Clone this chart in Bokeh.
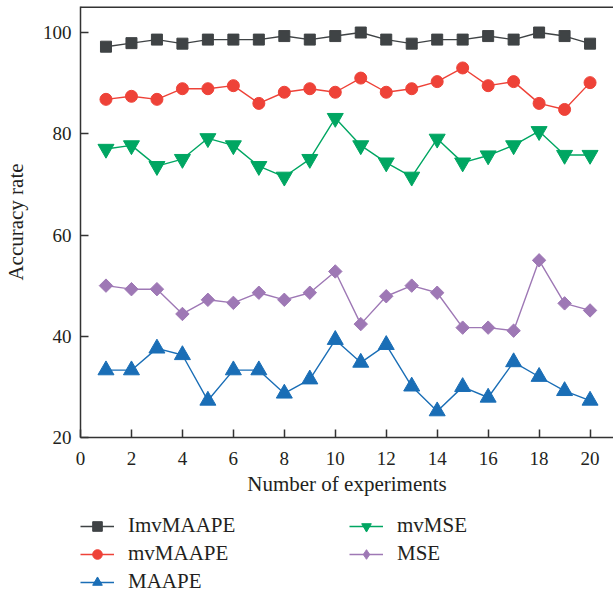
from bokeh.plotting import figure
from bokeh.layouts import column
from bokeh.models import Legend, LegendItem, FixedTicker, Range1d, Span
from bokeh.embed import file_html
from bokeh.resources import INLINE
import numpy as np

experiments = list(range(1, 21))
imv_maape = [97.2, 97.9, 98.6, 97.8, 98.6, 98.6, 98.6, 99.3, 98.6, 99.3,
             100.0, 98.6, 97.8, 98.6, 98.6, 99.3, 98.6, 100.0, 99.3, 97.8]
mv_maape = [86.8, 87.4, 86.8, 88.9, 88.9, 89.5, 86.0, 88.2, 88.9, 88.2,
            91.0, 88.2, 88.9, 90.3, 93.0, 89.5, 90.3, 86.0, 84.8, 90.1]
maape = [33.3, 33.3, 37.6, 36.3, 27.3, 33.3, 33.3, 28.7, 31.5, 39.3,
         34.8, 38.3, 30.1, 25.2, 30.0, 27.9, 34.9, 32.0, 29.2, 27.3]
mv_mse = [77.0, 77.7, 73.6, 75.0, 79.1, 77.7, 73.6, 71.5, 75.0, 83.1,
          77.7, 74.3, 71.5, 79.0, 74.3, 75.7, 77.7, 80.5, 75.8, 75.8]
mse = [50.0, 49.3, 49.3, 44.4, 47.2, 46.6, 48.6, 47.2, 48.6, 52.8,
       42.4, 47.9, 50.0, 48.6, 41.7, 41.7, 41.1, 55.0, 46.5, 45.1]
x_ticks = list(range(0, 21, 2))
y_ticks = [20, 40, 60, 80, 100]

FONT = "Liberation Serif"
TXT = "#231f20"
AX = "#333333"
X_END = 20.92
Y_END = 105.14

p = figure(width=613, height=509, output_backend="svg", toolbar_location=None,
           x_range=Range1d(0, X_END), y_range=Range1d(20, Y_END),
           min_border_left=79, min_border_right=0, min_border_top=6,
           min_border_bottom=72)
p.outline_line_color = None
p.xgrid.visible = False
p.ygrid.visible = False

xax = p.below[0]
yax = p.left[0]

for ax in (xax, yax):
    ax.axis_line_color = AX
    ax.axis_line_width = 1.5
    ax.major_tick_line_color = AX
    ax.major_tick_line_width = 1.5
    ax.major_tick_in = 8
    ax.major_tick_out = 0
    ax.minor_tick_line_color = None
    ax.major_label_text_font = FONT
    ax.major_label_text_font_size = "19px"
    ax.major_label_text_color = TXT
    ax.axis_label_text_font = FONT
    ax.axis_label_text_font_size = "21px"
    ax.axis_label_text_font_style = "normal"
    ax.axis_label_text_color = TXT

xax.ticker = FixedTicker(ticks=x_ticks)
yax.ticker = FixedTicker(ticks=y_ticks)
xax.axis_label = "Number of experiments"
yax.axis_label = "Accuracy rate"
xax.major_label_standoff = 14
xax.axis_label_standoff = 4
yax.major_label_standoff = 9
yax.axis_label_standoff = 12

p.add_layout(Span(location=Y_END, dimension="width", line_color=AX, line_width=3))

# name, values, colour, chart marker, size, angle, legend marker
series = [
    ("ImvMAAPE", imv_maape, "#3f4345", "square", 11, 0, "square"),
    ("mvMAAPE", mv_maape, "#ee4238", "circle", 12, 0, "circle"),
    ("MAAPE", maape, "#1a6eb6", "triangle", 16, 0, "triangle"),
    ("mvMSE", mv_mse, "#00a662", "inverted_triangle", 16, 0, "inverted_triangle"),
    ("MSE", mse, "#9e78b5", "square", 9.5, np.pi / 4, "diamond"),
]

# legend canvas below the chart; its renderers use ranges that hide their data
p2 = figure(width=613, height=85, output_backend="svg", toolbar_location=None,
            x_axis_type=None, y_axis_type=None, x_range=Range1d(-3, -2),
            y_range=Range1d(-3, -2), min_border=0)
p2.outline_line_color = None
p2.grid.visible = False

items = {}
for name, ys, col, mk, sz, ang, lmk in series:
    p.line(experiments, ys, line_color=col, line_width=1.4)
    p.scatter(experiments, ys, marker=mk, size=sz, angle=ang,
              fill_color=col, line_color=col)
    ln = p2.line(experiments, ys, line_color=col, line_width=1.6)
    sc = p2.scatter(experiments, ys, marker=lmk, size=sz,
                    fill_color=col, line_color=col)
    items[name] = LegendItem(label=name, renderers=[ln, sc])

order = ["ImvMAAPE", "mvMAAPE", "MAAPE", "mvMSE", "MSE"]
legend = Legend(items=[items[n] for n in order], location=(0, 0),
                orientation="vertical", nrows=3,
                border_line_color=None, background_fill_alpha=0,
                padding=0, margin=0, spacing=3,
                glyph_width=34, glyph_height=24, label_height=24,
                label_width=218, label_standoff=14,
                label_text_font=FONT, label_text_font_size="21px",
                label_text_color=TXT)
p2.add_layout(legend, "center")

layout = column(p, p2, spacing=0)
open("out.html", "w").write(file_html(layout, INLINE))
